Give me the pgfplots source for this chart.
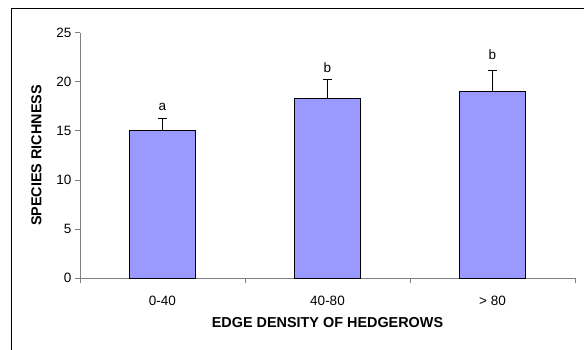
\documentclass[border=0pt]{standalone}
\usepackage{fontspec}
\setmainfont{Liberation Sans}
\usepackage{pgfplots}
\pgfplotsset{compat=1.18}
\definecolor{barfill}{HTML}{9999FF}
\definecolor{axisgray}{HTML}{808080}
\begin{document}
\begin{tikzpicture}
\useasboundingbox (0pt,0pt) rectangle (584pt,349pt);
\draw[line width=1.2pt] (11.5pt,-5pt) -- (11.5pt,340.3pt) -- (590pt,340.3pt);
\begin{axis}[
  at={(80pt,70.7pt)}, anchor=south west,
  scale only axis, width=495pt, height=245.6pt,
  xmin=-0.5, xmax=2.5, ymin=0, ymax=25,
  axis x line*=bottom, axis y line*=left,
  axis line style={axisgray, line width=1pt, -},
  xtick={-0.5,0.5,1.5,2.5}, xticklabels={,,,},
  extra x ticks={0,1,2}, extra x tick labels={0-40,40-80,> 80},
  extra x tick style={major tick length=0pt},
  xticklabel style={yshift=-14pt},
  ytick={0,5,10,15,20,25},
  tick align=outside,
  tick style={axisgray, line width=1pt},
  major tick length=5pt,
  /pgf/number format/assume math mode=true,
  ticklabel style={font=\fontsize{13.5}{16}\selectfont, black},
  every axis x label/.style={at={(axis description cs:0.5,-0.182)}, anchor=center, font=\bfseries\fontsize{14.4}{17}\selectfont},
  every axis y label/.style={at={(axis description cs:-0.0879,0.5)}, anchor=center, rotate=90, font=\bfseries\fontsize{14.4}{17}\selectfont},
  xlabel={EDGE DENSITY OF HEDGEROWS},
  ylabel={SPECIES RICHNESS},
  clip=false,
]
\addplot[ybar, bar width=0.4, fill=barfill, draw=black, line width=1pt, mark=none,
  error bars/.cd, y dir=plus, y explicit,
  error bar style={black, line width=1pt},
  error mark options={rotate=90, black, mark size=4.5pt, line width=1pt}]
  coordinates {(0,15.0) +- (0,1.3) (1,18.3) +- (0,1.9) (2,19.0) +- (0,2.2)};
\addplot[draw=none, mark=none, nodes near coords, point meta=explicit symbolic,
  nodes near coords style={anchor=base, inner sep=0pt, black, font=\fontsize{13.5}{16}\selectfont}]
  coordinates {(0,17.1) [a] (1,20.9) [b] (2,22.3) [b]};
\end{axis}
\end{tikzpicture}
\end{document}
